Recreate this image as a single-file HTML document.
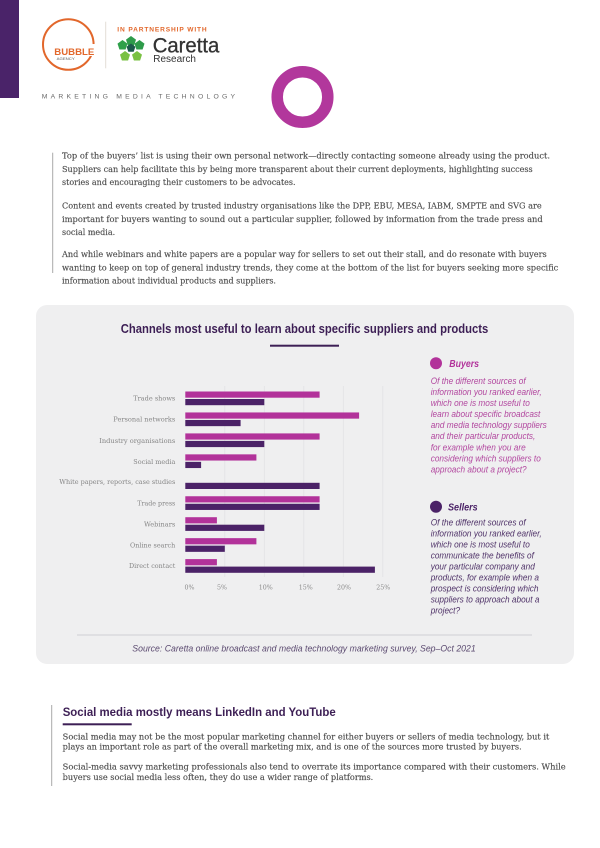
<!DOCTYPE html>
<html>
<head>
<meta charset="utf-8">
<style>
  html, body { margin: 0; padding: 0; background: #ffffff; }
  svg { display: block; }
  .body { font-family: "DejaVu Serif", "Liberation Serif", serif; font-size: 8px; fill: #4e4e4e; stroke: #4e4e4e; stroke-width: 0.15; }
  .lab { font-family: "DejaVu Serif", "Liberation Serif", serif; font-size: 6.6px; fill: #858585; }
  .tick { font-family: "DejaVu Serif", "Liberation Serif", serif; font-size: 6.3px; fill: #8a8a8a; }
  .head { font-family: "Liberation Sans", sans-serif; font-weight: bold; fill: #3d1f55; }
  .leg { font-family: "Liberation Sans", sans-serif; font-style: italic; font-size: 9.5px; }
</style>
</head>
<body>
<svg width="600" height="848" viewBox="0 0 600 848" xmlns="http://www.w3.org/2000/svg">
  <rect x="0" y="0" width="600" height="848" fill="#ffffff"/>

  <!-- Header -->
  <rect x="0" y="0" width="19" height="98" fill="#4a2369"/>

  <!-- Bubble logo -->
  <circle cx="68.3" cy="44.5" r="25.3" fill="none" stroke="#e2672b" stroke-width="2"/>
  <rect x="89" y="44" width="10" height="12" fill="#ffffff"/>
  <text x="54.3" y="55" font-family="Liberation Sans, sans-serif" font-weight="bold" font-size="9.5" fill="#e2672b" textLength="40" lengthAdjust="spacingAndGlyphs">BUBBLE</text>
  <text x="56.7" y="59.8" font-family="Liberation Sans, sans-serif" font-size="3.6" fill="#555" textLength="18" lengthAdjust="spacingAndGlyphs">AGENCY</text>

  <line x1="105.7" y1="21.7" x2="105.7" y2="68.3" stroke="#e3ddd6" stroke-width="1"/>

  <text x="117.3" y="31.7" font-family="Liberation Sans, sans-serif" font-weight="bold" font-size="6.6" fill="#e2672b" textLength="89.4" lengthAdjust="spacing">IN PARTNERSHIP WITH</text>

  <!-- Caretta flower -->
  <g>
    <polygon points="131,36 136,39.6 134.1,45.5 127.9,45.5 126,39.6" fill="#2e9b4a"/>
    <polygon points="122.5,40 127.5,43.6 125.6,49.5 119.4,49.5 117.5,43.6" fill="#2fa04a"/>
    <polygon points="139.5,40 144.5,43.6 142.6,49.5 136.4,49.5 134.5,43.6" fill="#2e9b4a"/>
    <polygon points="125,51 130,54.6 128.1,60.5 121.9,60.5 120,54.6" fill="#7ac143"/>
    <polygon points="137,51 142,54.6 140.1,60.5 133.9,60.5 132,54.6" fill="#7ac143"/>
    <polygon points="131,43.5 135.4,46.7 133.7,51.8 128.3,51.8 126.6,46.7" fill="#1d5a4c"/>
  </g>
  <text x="152.7" y="52.5" font-family="Liberation Sans, sans-serif" font-size="21" fill="#333333" stroke="#333333" stroke-width="0.3" textLength="66.6" lengthAdjust="spacingAndGlyphs">Caretta</text>
  <text x="153.3" y="62" font-family="Liberation Sans, sans-serif" font-size="10" fill="#333333" textLength="42.7" lengthAdjust="spacingAndGlyphs">Research</text>

  <text x="41.7" y="98.6" font-family="Liberation Sans, sans-serif" font-size="6.8" fill="#6b6b6b" textLength="193.3" lengthAdjust="spacing">MARKETING MEDIA TECHNOLOGY</text>

  <circle cx="302.5" cy="97" r="25.3" fill="none" stroke="#b2379c" stroke-width="11.5"/>

  <!-- Body text -->
  <line x1="52.7" y1="152.7" x2="52.7" y2="273" stroke="#a8a8a8" stroke-width="1"/>
  <text class="body" x="62" y="158.5" textLength="488" lengthAdjust="spacingAndGlyphs">Top of the buyers’ list is using their own personal network—directly contacting someone already using the product.</text>
  <text class="body" x="62" y="171.8" textLength="470.7" lengthAdjust="spacingAndGlyphs">Suppliers can help facilitate this by being more transparent about their current deployments, highlighting success</text>
  <text class="body" x="62" y="185">stories and encouraging their customers to be advocates.</text>

  <text class="body" x="62" y="208.5" textLength="479.7" lengthAdjust="spacingAndGlyphs">Content and events created by trusted industry organisations like the DPP, EBU, MESA, IABM, SMPTE and SVG are</text>
  <text class="body" x="62" y="221.8" textLength="480.7" lengthAdjust="spacingAndGlyphs">important for buyers wanting to sound out a particular supplier, followed by information from the trade press and</text>
  <text class="body" x="62" y="235">social media.</text>

  <text class="body" x="62" y="257" textLength="484.7" lengthAdjust="spacingAndGlyphs">And while webinars and white papers are a popular way for sellers to set out their stall, and do resonate with buyers</text>
  <text class="body" x="62" y="270.3" textLength="496.3" lengthAdjust="spacingAndGlyphs">wanting to keep on top of general industry trends, they come at the bottom of the list for buyers seeking more specific</text>
  <text class="body" x="62" y="283.5">information about individual products and suppliers.</text>

  <!-- Chart panel -->
  <rect x="36" y="305" width="538" height="359" rx="11" ry="11" fill="#efeff0"/>

  <text class="head" x="120.7" y="332.8" font-size="12.5" textLength="367.6" lengthAdjust="spacingAndGlyphs">Channels most useful to learn about specific suppliers and products</text>
  <rect x="270" y="344.7" width="69" height="2" fill="#3d1f55"/>

  <!-- gridlines -->
  <g stroke="#e2e2e4" stroke-width="0.8">
    <line x1="224.8" y1="386" x2="224.8" y2="577"/>
    <line x1="264.3" y1="386" x2="264.3" y2="577"/>
    <line x1="303.8" y1="386" x2="303.8" y2="577"/>
    <line x1="343.3" y1="386" x2="343.3" y2="577"/>
    <line x1="382.8" y1="386" x2="382.8" y2="577"/>
  </g>

  <!-- bars -->
  <g>
    <rect x="185.3" y="391.5" width="134.3" height="6.2" fill="#b2329a"/>
    <rect x="185.3" y="399" width="79" height="6.2" fill="#4b2267"/>
    <rect x="185.3" y="412.45" width="173.8" height="6.2" fill="#b2329a"/>
    <rect x="185.3" y="419.95" width="55.3" height="6.2" fill="#4b2267"/>
    <rect x="185.3" y="433.4" width="134.3" height="6.2" fill="#b2329a"/>
    <rect x="185.3" y="440.9" width="79" height="6.2" fill="#4b2267"/>
    <rect x="185.3" y="454.35" width="71.1" height="6.2" fill="#b2329a"/>
    <rect x="185.3" y="461.85" width="15.8" height="6.2" fill="#4b2267"/>
    <rect x="185.3" y="482.8" width="134.3" height="6.2" fill="#4b2267"/>
    <rect x="185.3" y="496.25" width="134.3" height="6.2" fill="#b2329a"/>
    <rect x="185.3" y="503.75" width="134.3" height="6.2" fill="#4b2267"/>
    <rect x="185.3" y="517.2" width="31.6" height="6.2" fill="#b2329a"/>
    <rect x="185.3" y="524.7" width="79" height="6.2" fill="#4b2267"/>
    <rect x="185.3" y="538.15" width="71.1" height="6.2" fill="#b2329a"/>
    <rect x="185.3" y="545.65" width="39.5" height="6.2" fill="#4b2267"/>
    <rect x="185.3" y="559.1" width="31.6" height="6.2" fill="#b2329a"/>
    <rect x="185.3" y="566.6" width="189.6" height="6.2" fill="#4b2267"/>
  </g>

  <!-- category labels -->
  <g text-anchor="end">
    <text class="lab" x="175.3" y="400.6" textLength="42" lengthAdjust="spacingAndGlyphs">Trade shows</text>
    <text class="lab" x="175.3" y="421.6" textLength="62" lengthAdjust="spacingAndGlyphs">Personal networks</text>
    <text class="lab" x="175.3" y="442.9" textLength="76" lengthAdjust="spacingAndGlyphs">Industry organisations</text>
    <text class="lab" x="175.3" y="463.9" textLength="42" lengthAdjust="spacingAndGlyphs">Social media</text>
    <text class="lab" x="175.3" y="484" textLength="116" lengthAdjust="spacingAndGlyphs">White papers, reports, case studies</text>
    <text class="lab" x="175.3" y="505.6" textLength="38" lengthAdjust="spacingAndGlyphs">Trade press</text>
    <text class="lab" x="175.3" y="526.6" textLength="31.3" lengthAdjust="spacingAndGlyphs">Webinars</text>
    <text class="lab" x="175.3" y="547.3" textLength="45.3" lengthAdjust="spacingAndGlyphs">Online search</text>
    <text class="lab" x="175.3" y="568" textLength="46.3" lengthAdjust="spacingAndGlyphs">Direct contact</text>
  </g>

  <!-- tick labels -->
  <g text-anchor="middle">
    <text class="tick" x="189.5" y="589.3">0%</text>
    <text class="tick" x="222" y="589.3">5%</text>
    <text class="tick" x="265.7" y="589.3">10%</text>
    <text class="tick" x="305.7" y="589.3">15%</text>
    <text class="tick" x="344" y="589.3">20%</text>
    <text class="tick" x="383.3" y="589.3">25%</text>
  </g>

  <!-- Legend: Buyers -->
  <circle cx="436" cy="363.3" r="6" fill="#b2329a"/>
  <text x="449.3" y="367" font-family="Liberation Sans, sans-serif" font-weight="bold" font-style="italic" font-size="10.5" fill="#b2329a" textLength="29.7" lengthAdjust="spacingAndGlyphs">Buyers</text>
  <g transform="translate(430.7,0) scale(0.87,1)" class="leg" fill="#b2479f">
    <text x="0" y="384">Of the different sources of</text>
    <text x="0" y="395.05">information you ranked earlier,</text>
    <text x="0" y="406.1">which one is most useful to</text>
    <text x="0" y="417.15">learn about specific broadcast</text>
    <text x="0" y="428.2">and media technology suppliers</text>
    <text x="0" y="439.25">and their particular products,</text>
    <text x="0" y="450.3">for example when you are</text>
    <text x="0" y="461.35">considering which suppliers to</text>
    <text x="0" y="472.4">approach about a project?</text>
  </g>

  <!-- Legend: Sellers -->
  <circle cx="436" cy="506.7" r="6" fill="#4b2267"/>
  <text x="448" y="510.4" font-family="Liberation Sans, sans-serif" font-weight="bold" font-style="italic" font-size="10.5" fill="#4b2267" textLength="29.7" lengthAdjust="spacingAndGlyphs">Sellers</text>
  <g transform="translate(430.7,0) scale(0.87,1)" class="leg" fill="#4f3268">
    <text x="0" y="525.3">Of the different sources of</text>
    <text x="0" y="536.35">information you ranked earlier,</text>
    <text x="0" y="547.4">which one is most useful to</text>
    <text x="0" y="558.45">communicate the benefits of</text>
    <text x="0" y="569.5">your particular company and</text>
    <text x="0" y="580.55">products, for example when a</text>
    <text x="0" y="591.6">prospect is considering which</text>
    <text x="0" y="602.65">suppliers to approach about a</text>
    <text x="0" y="613.7">project?</text>
  </g>

  <!-- Separator & source -->
  <line x1="77" y1="635" x2="532" y2="635" stroke="#cfcfd3" stroke-width="1"/>
  <text x="132.3" y="651.3" font-family="Liberation Sans, sans-serif" font-style="italic" font-size="9" fill="#5b4a70" textLength="343.4" lengthAdjust="spacingAndGlyphs">Source: Caretta online broadcast and media technology marketing survey, Sep–Oct 2021</text>

  <!-- Bottom section -->
  <line x1="51.7" y1="705" x2="51.7" y2="786" stroke="#a8a8a8" stroke-width="1"/>
  <text class="head" x="62.7" y="716" font-size="12.3" textLength="273" lengthAdjust="spacingAndGlyphs">Social media mostly means LinkedIn and YouTube</text>
  <rect x="62.7" y="723.3" width="69" height="2" fill="#3d1f55"/>

  <text class="body" x="62.7" y="739.5" textLength="486.6" lengthAdjust="spacingAndGlyphs">Social media may not be the most popular marketing channel for either buyers or sellers of media technology, but it</text>
  <text class="body" x="62.7" y="749.6" textLength="459" lengthAdjust="spacingAndGlyphs">plays an important role as part of the overall marketing mix, and is one of the sources more trusted by buyers.</text>
  <text class="body" x="62.7" y="769.6" textLength="503" lengthAdjust="spacingAndGlyphs">Social-media savvy marketing professionals also tend to overrate its importance compared with their customers. While</text>
  <text class="body" x="62.7" y="779.8" textLength="310.6" lengthAdjust="spacingAndGlyphs">buyers use social media less often, they do use a wider range of platforms.</text>
</svg>
</body>
</html>
